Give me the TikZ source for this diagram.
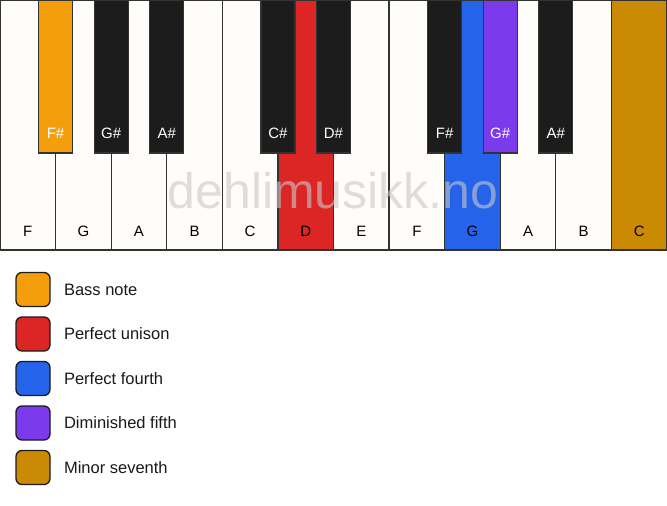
\documentclass[tikz,border=0pt]{standalone}
\usepackage{fontspec}
\setmainfont{Liberation Sans}
\definecolor{ivory}{HTML}{FFFDF9}
\definecolor{keyblack}{HTML}{1C1C1C}
\definecolor{outl}{HTML}{333333}
\definecolor{cbass}{HTML}{F59E0B}
\definecolor{cuni}{HTML}{DC2626}
\definecolor{cfourth}{HTML}{2563EB}
\definecolor{cdim}{HTML}{7C3AED}
\definecolor{cseventh}{HTML}{CA8A04}
\definecolor{wm}{HTML}{C8C8C8}
\tikzset{
  wkey/.style={draw=outl, line width=1.3pt, fill=ivory},
  bkey/.style={draw=outl, line width=1.3pt, fill=keyblack},
  wlab/.style={font=\fontsize{15}{15}\selectfont, text=black},
  blab/.style={font=\fontsize{15}{15}\selectfont, text=white},
  legbox/.style={draw=keyblack, line width=1.3pt, rounded corners=6pt, minimum width=34pt, minimum height=34pt, inner sep=0pt},
  legtext/.style={font=\fontsize{16.5}{16.5}\selectfont, anchor=west, text=black!90},
}
\begin{document}
\begin{tikzpicture}[x=1pt,y=-1pt]
\useasboundingbox[fill=white] (0,0) rectangle (667,506);
% white keys
\def\w{55.583}
\foreach \i/\n/\c in {0/F/ivory,1/G/ivory,2/A/ivory,3/B/ivory,4/C/ivory,5/D/cuni,6/E/ivory,7/F/ivory,8/G/cfourth,9/A/ivory,10/B/ivory,11/C/cseventh}{
  \path[wkey, fill=\c] (\i*\w,0) rectangle ({(\i+1)*\w},250);
  \node[wlab] (w\i) at ({(\i+0.5)*\w},231) {\n};
}
% watermark
\node[font=\fontsize{50}{50}\selectfont, text=wm, opacity=0.6] (wmark) at (333,191) {dehlimusikk.no};
% black keys
\foreach \i/\n/\c in {1/F\#/cbass,2/G\#/keyblack,3/A\#/keyblack,5/C\#/keyblack,6/D\#/keyblack,8/F\#/keyblack,9/G\#/cdim,10/A\#/keyblack}{
  \path[bkey, fill=\c] ({\i*\w-17},-2) rectangle ({\i*\w+17},153);
  \node[blab] (b\i) at ({\i*\w},133) {\n};
}
\draw[outl, line width=1.3pt] (0.65,0) rectangle (666.35,250);
% legend
\foreach \k/\c/\t in {0/cbass/Bass note,1/cuni/Perfect unison,2/cfourth/Perfect fourth,3/cdim/Diminished fifth,4/cseventh/Minor seventh}{
  \node[legbox, fill=\c] (l\k) at (33,{289.5+\k*44.5}) {};
  \node[legtext] (t\k) at (60.5,{289.5+\k*44.5}) {\t};
}
\end{tikzpicture}
\end{document}
